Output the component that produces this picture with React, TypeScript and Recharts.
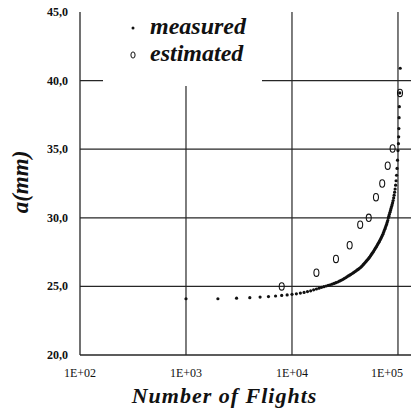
import React from 'react';
import { ScatterChart, Scatter, XAxis, YAxis, ReferenceLine, Legend, Label } from 'recharts';

// Crack length a (mm) against flights, measured every 1000 flights (in thousands)
const measuredKFlights = [
  1, 2, 3, 4, 5, 6, 7, 8, 9, 10,
  11, 12, 13, 14, 15, 16, 17, 18, 19, 20,
  21, 22, 23, 24, 25, 26, 27, 28, 29, 30,
  31, 32, 33, 34, 35, 36, 37, 38, 39, 40,
  41, 42, 43, 44, 45, 46, 47, 48, 49, 50,
  51, 52, 53, 54, 55, 56, 57, 58, 59, 60,
  61, 62, 63, 64, 65, 66, 67, 68, 69, 70,
  71, 72, 73, 74, 75, 76, 77, 78, 79, 80,
  81, 82, 83, 84, 85, 86, 87, 88, 89, 90,
  91, 92, 93, 94, 95, 96, 97, 98, 99, 100,
  101, 101.5, 102, 102.5, 103, 104, 105,
];
const measuredCrack = [
  24.1, 24.1, 24.14, 24.18, 24.22, 24.26, 24.3, 24.34, 24.38, 24.42,
  24.46, 24.51, 24.56, 24.62, 24.68, 24.75, 24.81, 24.87, 24.93, 24.98,
  25.03, 25.08, 25.12, 25.17, 25.22, 25.27, 25.32, 25.38, 25.44, 25.5,
  25.56, 25.63, 25.7, 25.76, 25.82, 25.88, 25.94, 26.0, 26.06, 26.12,
  26.18, 26.24, 26.3, 26.36, 26.43, 26.5, 26.58, 26.66, 26.74, 26.82,
  26.9, 26.98, 27.06, 27.14, 27.22, 27.31, 27.4, 27.49, 27.58, 27.67,
  27.76, 27.85, 27.94, 28.03, 28.12, 28.21, 28.3, 28.4, 28.5, 28.6,
  28.7, 28.8, 28.92, 29.04, 29.16, 29.28, 29.4, 29.52, 29.66, 29.8,
  29.98, 30.12, 30.26, 30.4, 30.54, 30.68, 30.82, 30.96, 31.1, 31.26,
  31.45, 31.65, 31.87, 32.1, 32.38, 32.7, 33.1, 33.6, 34.2, 34.9,
  35.4, 35.9, 36.5, 37.3, 38.1, 39.1, 40.9,
];

// Estimated crack length (thousands of flights, mm)
const estimatedKFlights = [8, 17, 26, 35, 44, 53, 62, 71, 80, 89, 104.5];
const estimatedCrack = [25.0, 26.0, 27.0, 28.0, 29.5, 30.0, 31.5, 32.5, 33.8, 35.05, 39.1];

const xTicks = [100, 1000, 10000, 100000];
const xTickLabels = ['1E+02', '1E+03', '1E+04', '1E+05'];
const yTicks = [20, 25, 30, 35, 40, 45];
const gridY = [25, 30, 35, 40];
const gridX = [1000, 10000, 100000];
const seriesNames = ['measured', 'estimated'];

const measured = measuredKFlights.map((k, i) => ({ n: k * 1000, a: measuredCrack[i] }));
const estimated = estimatedKFlights.map((k, i) => ({ n: k * 1000, a: estimatedCrack[i] }));

const SERIF = '"Liberation Serif", "Times New Roman", serif';
const INK = '#111';
const LINE = '#262626';

const Dot = (props: any) => <circle cx={props.cx} cy={props.cy} r={1.6} fill={INK} />;
const Ring = (props: any) => (
  <ellipse cx={props.cx} cy={props.cy} rx={2.5} ry={3.7} fill="none" stroke={INK} strokeWidth={1.1} />
);

const XTick = (props: any) => {
  const { x, y, payload } = props;
  const label = xTickLabels[xTicks.indexOf(payload.value)] ?? '';
  return (
    <text x={x} y={y + 9} textAnchor="middle" style={{ fontFamily: SERIF, fontSize: 12, fill: INK }}>
      {label}
    </text>
  );
};

const YTick = (props: any) => {
  const { x, y, payload } = props;
  return (
    <text
      x={x}
      y={y + 4}
      textAnchor="end"
      style={{ fontFamily: SERIF, fontSize: 12, fontWeight: 700, fill: INK }}
    >
      {Number(payload.value).toFixed(1).replace('.', ',')}
    </text>
  );
};

const LegendBox = () => (
  <div style={{ position: 'relative', width: 159, height: 75, fontFamily: SERIF }}>
    <svg width={40} height={75} style={{ position: 'absolute', left: 0, top: 0 }}>
      <circle cx={30} cy={17} r={1.5} fill={INK} />
      <ellipse cx={30} cy={44} rx={2.1} ry={3.1} fill="none" stroke={INK} strokeWidth={1} />
    </svg>
    {seriesNames.map((name, i) => (
      <div
        key={name}
        style={{
          position: 'absolute',
          left: 47,
          top: i === 0 ? 2 : 29,
          fontSize: 24,
          lineHeight: '26px',
          fontWeight: 700,
          fontStyle: 'italic',
          color: INK,
          whiteSpace: 'nowrap',
        }}
      >
        {name}
      </div>
    ))}
  </div>
);

const YTitle = () => (
  <text
    x={28}
    y={182}
    transform="rotate(-90, 28, 182)"
    textAnchor="middle"
    style={{ fontFamily: SERIF, fontSize: 23, fontWeight: 700, fontStyle: 'italic', fill: INK }}
  >
    a(mm)
  </text>
);

export default function App() {
  return (
    <div style={{ position: 'absolute', left: 0, top: 0, background: '#fff' }}>
      <ScatterChart width={411} height={418} margin={{ top: 12, right: 0, bottom: 0, left: 0 }}>
        <XAxis
          dataKey="n"
          type="number"
          scale="log"
          domain={[100, 132700]}
          ticks={xTicks}
          allowDataOverflow
          height={63}
          axisLine={{ stroke: LINE, strokeWidth: 1.3 }}
          tickLine={false}
          tickSize={0}
          tickMargin={13}
          tick={XTick}
        >
          <Label
            value="Number of Flights"
            position="insideBottom"
            offset={15}
            dx={-21}
            style={{ fontFamily: SERIF, fontSize: 22, fontWeight: 700, fontStyle: 'italic', fill: INK, letterSpacing: 1 }}
          />
        </XAxis>
        <YAxis
          dataKey="a"
          type="number"
          domain={[20, 45]}
          ticks={yTicks}
          allowDataOverflow
          width={80}
          axisLine={{ stroke: LINE, strokeWidth: 1.3 }}
          tickLine={false}
          tickSize={0}
          tickMargin={12}
          tick={YTick}
        >
          <Label content={YTitle} />
        </YAxis>
        {gridY.map((y) => (
          <ReferenceLine key={'y' + y} y={y} stroke={LINE} strokeWidth={1.2} />
        ))}
        {gridX.map((x) => (
          <ReferenceLine key={'x' + x} x={x} stroke={LINE} strokeWidth={1.2} />
        ))}
        <Legend
          layout="horizontal"
          verticalAlign="middle"
          align="center"
          content={LegendBox}
          wrapperStyle={{ left: 103, top: 11, width: 159, height: 75, background: '#fff' }}
        />
        <Scatter name={seriesNames[0]} data={measured} shape={Dot} isAnimationActive={false} />
        <Scatter name={seriesNames[1]} data={estimated} shape={Ring} isAnimationActive={false} />
      </ScatterChart>
    </div>
  );
}
